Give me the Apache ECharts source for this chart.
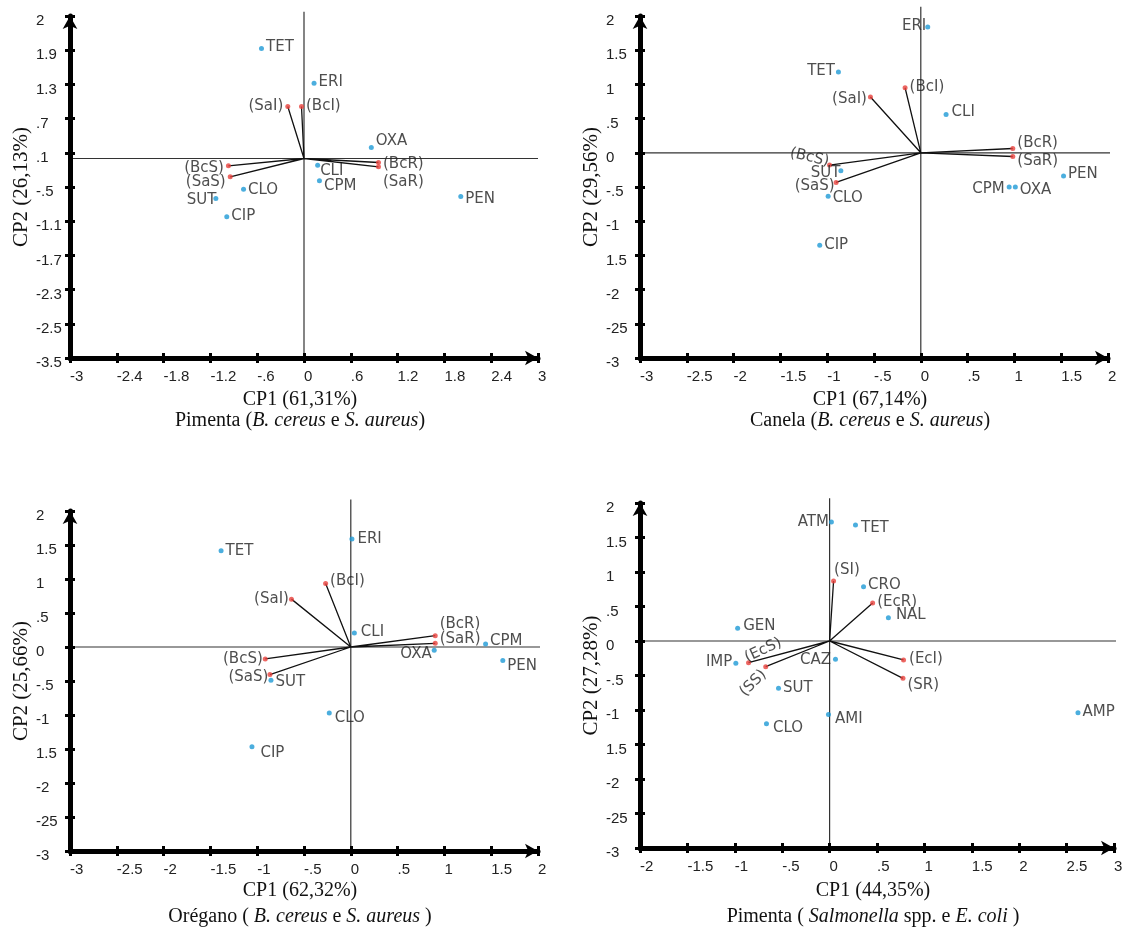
<!DOCTYPE html>
<html><head><meta charset="utf-8">
<script src="https://cdn.jsdelivr.net/npm/echarts@6/dist/echarts.min.js"></script>
<style>html,body{margin:0;padding:0;background:#fff}#c{width:1129px;height:929px}</style>
</head><body><div id="c"></div>
<script>
// ---------- Panel 1: Pimenta (B. cereus e S. aureus)
const p1XTicks = ['-3','-2.4','-1.8','-1.2','-.6','0','.6','1.2','1.8','2.4','3'];
const p1YTicks = ['-3.5','-2.5','-2.3','-1.7','-1.1','-.5','.1','.7','1.3','1.9','2'];
const p1Drugs = ['TET','ERI','OXA','CLI','CPM','PEN','CLO','SUT','CIP'];
const p1DrugX = [-0.545, 0.129, 0.863, 0.175, 0.198, 2.01, -0.775, -1.13, -0.99];
const p1DrugY = [1.93, 1.32, 0.193, -0.117, -0.392, -0.667, -0.539, -0.70, -1.02];
const p1Vars = ['(SaI)','(BcI)','(BcS)','(SaS)','(BcR)','(SaR)'];
const p1VarX = [-0.208, -0.032, -0.969, -0.946, 0.955, 0.955];
const p1VarY = [0.913, 0.913, -0.129, -0.322, -0.07, -0.146];

// ---------- Panel 2: Canela (B. cereus e S. aureus)
const p2XTicks = ['-3','-2.5','-2','-1.5','-1','-.5','0','.5','1','1.5','2'];
const p2YTicks = ['-3','-25','-2','1.5','-1','-.5','0','.5','1','1.5','2'];
const p2Drugs = ['ERI','TET','CLI','PEN','CPM','OXA','SUT','CLO','CIP'];
const p2DrugX = [0.074, -0.88, 0.27, 1.525, 0.944, 1.01, -0.854, -0.99, -1.08];
const p2DrugY = [1.84, 1.18, 0.56, -0.34, -0.50, -0.50, -0.263, -0.634, -1.35];
const p2Vars = ['(BcI)','(SaI)','(BcR)','(SaR)','(BcS)','(SaS)'];
const p2VarX = [-0.168, -0.538, 0.983, 0.983, -0.975, -0.905];
const p2VarY = [0.951, 0.815, 0.063, -0.054, -0.18, -0.434];

// ---------- Panel 3: Orégano (B. cereus e S. aureus)
const p3XTicks = ['-3','-2.5','-2','-1.5','-1','-.5','0','.5','1','1.5','2'];
const p3YTicks = ['-3','-25','-2','1.5','-1','-.5','0','.5','1','1.5','2'];
const p3Drugs = ['TET','ERI','CLI','CPM','OXA','PEN','SUT','CLO','CIP'];
const p3DrugX = [-1.386, 0.012, 0.038, 1.44, 0.891, 1.624, -0.853, -0.23, -1.056];
const p3DrugY = [1.414, 1.59, 0.205, 0.044, -0.049, -0.20, -0.489, -0.969, -1.468];
const p3Vars = ['(BcI)','(SaI)','(BcR)','(SaR)','(BcS)','(SaS)'];
const p3VarX = [-0.269, -0.634, 0.902, 0.902, -0.914, -0.864];
const p3VarY = [0.934, 0.704, 0.166, 0.054, -0.176, -0.406];

// ---------- Panel 4: Pimenta (Salmonella spp. e E. coli)
const p4XTicks = ['-2','-1.5','-1','-.5','0','.5','1','1.5','2','2.5','3'];
const p4YTicks = ['-3','-25','-2','1.5','-1','-.5','0','.5','1','1.5','2'];
const p4Drugs = ['ATM','TET','CRO','NAL','GEN','IMP','CAZ','SUT','AMI','CLO','AMP'];
const p4DrugX = [0.019, 0.273, 0.358, 0.62, -0.97, -0.989, 0.062, -0.539, -0.012, -0.666, 2.62];
const p4DrugY = [1.724, 1.68, 0.787, 0.338, 0.184, -0.324, -0.266, -0.686, -1.067, -1.198, -1.04];
const p4Vars = ['(SI)','(EcR)','(EcI)','(SR)','(EcS)','(SS)'];
const p4VarX = [0.042, 0.454, 0.78, 0.774, -0.855, -0.674];
const p4VarY = [0.869, 0.551, -0.275, -0.541, -0.314, -0.372];

// ---------- label placement (style only): [position, dx, dy, rotate]
const p1DrugLab = [['right',0,-1],['right',0,-1],['right',0,-6],['right',-2,6],['right',0,5],['right',0,3],['right',0,1],['left',5,2],['right',0,-1]];
const p1VarLab = [['left',0,0],['right',0,0],['left',0,2],['left',0,5],['right',0,2],['right',0,15]];
const p2DrugLab = [['left',3,-1],['left',1,-1],['right',1,-2],['right',0,-2],['left',0,2],['right',0,3],['left',4,2],['right',0,2],['right',0,0]];
const p2VarLab = [['right',0,-1],['left',1,2],['right',0,-5],['right',0,5],['left',3,-4,-13],['left',3,4]];
const p3DrugLab = [['right',0,0],['right',1,0],['right',2,-1],['right',0,-3],['left',2,4],['right',0,6],['right',0,2],['right',1,5],['right',4,6]];
const p3VarLab = [['right',0,-2],['left',2,0],['right',0,-12],['right',0,-4],['left',2,0],['left',3,3]];
const p4DrugLab = [['left',2,0],['right',1,3],['right',0,-2],['right',3,-3],['right',1,-2],['left',1,-1],['left',0,1],['right',0,0],['right',2,4],['right',2,4],['right',0,-1]];
const p4VarLab = [['right',-4,-11],['right',0,-1],['right',1,-1],['right',0,7],['right',-5,-7,25],['left',-2,6,45]];

const panels = [
  {g:{left:70,top:16,width:468,height:342}, xr:[-3,3], yr:[-3.5,2.5], xt:p1XTicks, yt:p1YTicks,
   dn:p1Drugs, dx:p1DrugX, dy:p1DrugY, dl:p1DrugLab, vn:p1Vars, vx:p1VarX, vy:p1VarY, vl:p1VarLab,
   hEnd:3, vTop:2.575, xName:'CP1 (61,31%)', yName:'CP2 (26,13%)',
   sub:'{n|Pimenta (}{i|B. cereus}{n| e }{i|S. aureus}{n|)}', nameY:400, subY:421},
  {g:{left:640,top:16,width:468,height:342}, xr:[-3,2], yr:[-3,2], xt:p2XTicks, yt:p2YTicks,
   dn:p2Drugs, dx:p2DrugX, dy:p2DrugY, dl:p2DrugLab, vn:p2Vars, vx:p2VarX, vy:p2VarY, vl:p2VarLab,
   hEnd:2.115, vTop:2.136, xName:'CP1 (67,14%)', yName:'CP2 (29,56%)',
   sub:'{n|Canela (}{i|B. cereus}{n| e }{i|S. aureus}{n|)}', nameY:400, subY:421},
  {g:{left:70,top:511,width:468,height:340}, xr:[-3,2], yr:[-3,2], xt:p3XTicks, yt:p3YTicks,
   dn:p3Drugs, dx:p3DrugX, dy:p3DrugY, dl:p3DrugLab, vn:p3Vars, vx:p3VarX, vy:p3VarY, vl:p3VarLab,
   hEnd:2.47, vTop:2.17, xName:'CP1 (62,32%)', yName:'CP2 (25,66%)',
   sub:'{n|Orégano ( }{i|B. cereus}{n| e }{i|S. aureus}{n| )}', nameY:891, subY:917},
  {g:{left:640,top:503,width:474,height:345}, xr:[-2,3], yr:[-3,2], xt:p4XTicks, yt:p4YTicks,
   dn:p4Drugs, dx:p4DrugX, dy:p4DrugY, dl:p4DrugLab, vn:p4Vars, vx:p4VarX, vy:p4VarY, vl:p4VarLab,
   hEnd:3.03, vTop:2.068, xName:'CP1 (44,35%)', yName:'CP2 (27,28%)',
   sub:'{n|Pimenta ( }{i|Salmonella}{n| spp. e }{i|E. coli}{n| )}', nameY:891, subY:917}
];

const SANS = '"Liberation Sans", Arial, sans-serif';
const LBL = '"DejaVu Sans", Verdana, sans-serif';
const SERIF = '"Liberation Serif", "Times New Roman", serif';
const grid = [], xAxis = [], yAxis = [], series = [], graphic = [];

function pts(names, xs, ys, labs) {
  return names.map((n, k) => {
    const L = labs[k];
    return {name: n, value: [xs[k], ys[k]],
      label: {position: L[0], offset: [L[1], L[2]], rotate: L[3] || 0}};
  });
}

panels.forEach((p, i) => {
  grid.push(p.g);
  const xi = 3 * i, yi = 3 * i;
  xAxis.push({type:'value', gridIndex:i, min:p.xr[0], max:p.xr[1], show:false});
  xAxis.push({type:'category', gridIndex:i, data:p.xt, boundaryGap:false, position:'bottom', z:6,
    axisLine:{show:true, lineStyle:{color:'#000', width:5}, symbol:['none','arrow'], symbolSize:[11,13]},
    axisTick:{show:true, length:5, interval:0, lineStyle:{color:'#000', width:3}},
    axisLabel:{interval:0, align:'left', margin:11, fontFamily:SANS, fontSize:15, color:'#222'},
    splitLine:{show:false}});
  xAxis.push({type:'category', gridIndex:i, data:p.xt, boundaryGap:false, position:'bottom', z:6,
    axisLine:{show:false}, axisTick:{show:true, inside:true, length:5, interval:0, lineStyle:{color:'#000', width:3}},
    axisLabel:{show:false}, splitLine:{show:false}});
  yAxis.push({type:'value', gridIndex:i, min:p.yr[0], max:p.yr[1], show:false});
  yAxis.push({type:'category', gridIndex:i, data:p.yt, boundaryGap:false, position:'left', z:6,
    axisLine:{show:true, lineStyle:{color:'#000', width:5}, symbol:['none','arrow'], symbolSize:[11,13]},
    axisTick:{show:true, length:5, interval:0, lineStyle:{color:'#000', width:3}},
    axisLabel:{interval:0, align:'left', verticalAlign:'top', lineHeight:10, margin:34, fontFamily:SANS, fontSize:15, color:'#222'},
    splitLine:{show:false}});
  yAxis.push({type:'category', gridIndex:i, data:p.yt, boundaryGap:false, position:'left', z:6,
    axisLine:{show:false}, axisTick:{show:true, inside:true, length:5, interval:0, lineStyle:{color:'#000', width:3}},
    axisLabel:{show:false}, splitLine:{show:false}});

  const base = {xAxisIndex:xi, yAxisIndex:yi, silent:true, animation:false};
  series.push(Object.assign({type:'line', data:[[p.xr[0],0],[p.hEnd,0]], clip:false, showSymbol:false, symbol:'none',
    lineStyle:{color:'#333', width:1.2}, z:2}, base));
  series.push(Object.assign({type:'line', data:[[0,p.yr[0]],[0,p.vTop]], clip:false, showSymbol:false, symbol:'none',
    lineStyle:{color:'#333', width:1.2}, z:2}, base));
  const vec = [];
  p.vx.forEach((v, k) => { vec.push([0,0]); vec.push([v, p.vy[k]]); });
  vec.push([0,0]);
  series.push(Object.assign({type:'line', data:vec, showSymbol:false, symbol:'none',
    lineStyle:{color:'#111', width:1.3}, z:3}, base));
  const lab = {show:true, formatter:'{b}', fontFamily:LBL, fontSize:15, color:'#222', distance:2};
  series.push(Object.assign({type:'scatter', data:pts(p.vn, p.vx, p.vy, p.vl), symbolSize:5,
    itemStyle:{color:'#e8413c'}, label:lab, z:4}, base));
  series.push(Object.assign({type:'scatter', data:pts(p.dn, p.dx, p.dy, p.dl), symbolSize:5,
    itemStyle:{color:'#1e9ad6'}, label:lab, z:4}, base));

  const cx = p.g.left + p.g.width / 2 - 4, cy = p.g.top + p.g.height / 2;
  graphic.push({type:'text', x:cx, y:p.nameY, silent:true,
    style:{text:p.xName, font:'20px ' + SERIF, fill:'#111', align:'center', verticalAlign:'middle'}});
  graphic.push({type:'text', x:cx, y:p.subY, silent:true,
    style:{text:p.sub, font:'20px ' + SERIF, fill:'#111', align:'center', verticalAlign:'middle',
      rich:{n:{font:'20px ' + SERIF, fill:'#111'}, i:{font:'italic 20px ' + SERIF, fill:'#111'}}}});
  graphic.push({type:'text', x:p.g.left - 49, y:cy, rotation:Math.PI/2, silent:true,
    style:{text:p.yName, font:'21px ' + SERIF, fill:'#111', align:'center', verticalAlign:'middle'}});
});

const chart = echarts.init(document.getElementById('c'));
chart.setOption({animation:false, backgroundColor:'#fff', grid, xAxis, yAxis, series, graphic});
</script></body></html>
